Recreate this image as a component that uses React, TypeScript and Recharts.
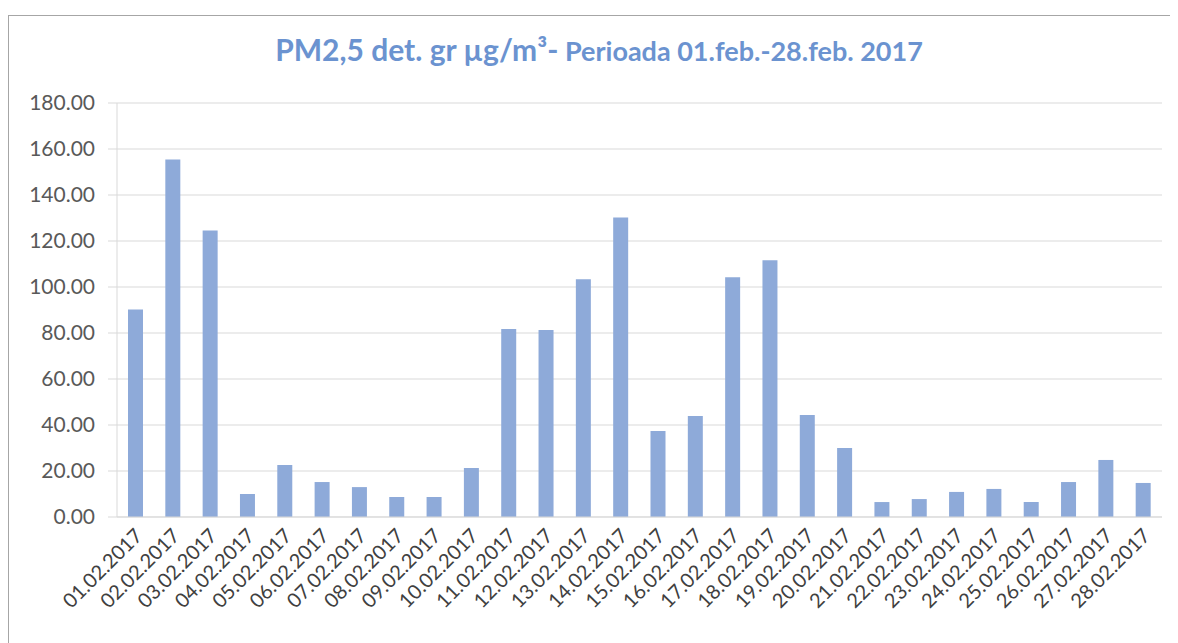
import { Bar, BarChart, CartesianGrid, XAxis, YAxis } from "recharts";

const days = [
  "01.02.2017", "02.02.2017", "03.02.2017", "04.02.2017", "05.02.2017", "06.02.2017", "07.02.2017",
  "08.02.2017", "09.02.2017", "10.02.2017", "11.02.2017", "12.02.2017", "13.02.2017", "14.02.2017",
  "15.02.2017", "16.02.2017", "17.02.2017", "18.02.2017", "19.02.2017", "20.02.2017", "21.02.2017",
  "22.02.2017", "23.02.2017", "24.02.2017", "25.02.2017", "26.02.2017", "27.02.2017", "28.02.2017"
];

const pm25 = [
  90.2, 155.4, 124.6, 10.0, 22.6, 15.2, 13.0,
  8.7, 8.7, 21.3, 81.7, 81.3, 103.4, 130.2,
  37.4, 43.9, 104.2, 111.6, 44.3, 30.0, 6.5,
  7.8, 10.9, 12.2, 6.5, 15.2, 24.8, 14.8
];

const yTicks = [0, 20, 40, 60, 80, 100, 120, 140, 160, 180];

const data = days.map((day, i) => ({ day, value: pm25[i] }));

const FONT = "Lato, 'Open Sans', sans-serif";

function DayTick(props: any) {
  const { x, y, payload } = props;
  return (
    <g transform={`translate(${x + 8},${y + 12})`}>
      <text textAnchor="end" transform="rotate(-45)" fill="#404040" fontSize={20} fontFamily={FONT}>
        {payload.value}
      </text>
    </g>
  );
}

export default function App() {
  return (
    <div
      style={{
        position: "relative",
        marginTop: 7,
        width: 1169,
        height: 627,
        borderTop: "1px solid #a6a6a6",
        borderLeft: "1px solid #a6a6a6",
        background: "#fff"
      }}
    >
      <div
        style={{
          position: "absolute",
          top: 15,
          left: 0,
          width: 1180,
          textAlign: "center",
          color: "#6b93d0",
          fontFamily: FONT,
          whiteSpace: "nowrap"
        }}
      >
        <span style={{ fontSize: 30, fontWeight: 700 }}>PM2,5 det. gr µg/m³-</span>
        <span style={{ fontSize: 27, fontWeight: 700 }}> Perioada 01.feb.-28.feb. 2017</span>
      </div>
      <BarChart
        width={1169}
        height={627}
        data={data}
        margin={{ top: 87, right: 16, bottom: 0, left: 0 }}
        barSize={15}
      >
        <CartesianGrid vertical={false} stroke="#d9d9d9" />
        <XAxis
          dataKey="day"
          interval={0}
          height={126}
          stroke="#d9d9d9"
          tickLine={false}
          tick={<DayTick />}
        />
        <YAxis
          domain={[0, 180]}
          ticks={yTicks}
          width={108}
          stroke="#d9d9d9"
          tickSize={9}
          tickMargin={13}
          tickFormatter={(v: number) => v.toFixed(2)}
          tick={{ fill: "#595959", fontSize: 21, fontFamily: FONT }}
        />
        <Bar dataKey="value" fill="#8eaad9" isAnimationActive={false} />
      </BarChart>
    </div>
  );
}
